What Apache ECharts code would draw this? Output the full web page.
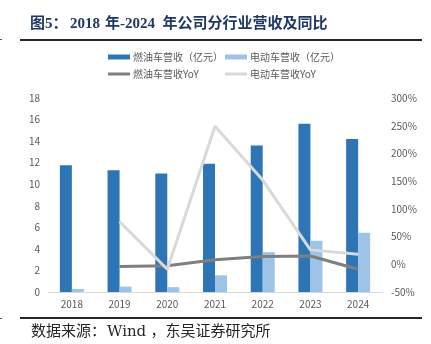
<!DOCTYPE html>
<html><head><meta charset="utf-8">
<script src="https://cdn.jsdelivr.net/npm/echarts@6/dist/echarts.min.js"></script>
<style>html,body{margin:0;padding:0;background:#fff}#c{width:431px;height:344px}</style>
</head><body><div id="c"></div>
<script>
const categories = ['2018','2019','2020','2021','2022','2023','2024'];
const fuelRevenue = [11.75, 11.3, 11.0, 11.9, 13.6, 15.6, 14.2];
const evRevenue = [0.28, 0.5, 0.45, 1.55, 3.7, 4.75, 5.5];
const fuelYoY = [null, -3.8, -2.7, 8, 14, 15, -9];
const evYoY = [null, 77, -9, 249, 152, 26, 18];
const leftTicks = {min: 0, max: 18, interval: 2};
const rightTicks = {min: -50, max: 300, interval: 50};
const names = ['燃油车营收（亿元）','电动车营收（亿元）','燃油车营收YoY','电动车营收YoY'];

const chart = echarts.init(document.getElementById('c'));
const lblFont = {color:'#595959', fontSize:10, fontFamily:'"Noto Sans CJK SC", sans-serif'};
function lg(name, left, top, h){
  return {data:[name], left:left, top:top, padding:0, itemWidth:22, itemHeight:h, icon:'rect', itemGap:0,
    textStyle:{color:'#595959', fontSize:10, fontFamily:'"Noto Sans CJK SC", sans-serif', padding:[0,0,0,-2]}};
}
const titleFont = 'bold 15px "Liberation Serif", "Noto Sans CJK SC", serif';
const srcFont = '15px "Liberation Serif", "Noto Sans CJK SC", serif';
function t(text, x, y, font, fill){ return {type:'text', x:x, y:y, style:{text:text, fill:fill, font:font}}; }
chart.setOption({
  animation:false,
  legend:[lg(names[0],108,52,5), lg(names[1],225,52,5), lg(names[2],108,69,3), lg(names[3],225,69,3)],
  grid:{left:48, right:49, top:98, bottom:52},
  xAxis:{type:'category', data:categories, axisTick:{show:false},
    axisLine:{lineStyle:{color:'#d9d9d9', width:1}},
    axisLabel:Object.assign({margin:7}, lblFont)},
  yAxis:[
    {type:'value', min:leftTicks.min, max:leftTicks.max, interval:leftTicks.interval,
     splitLine:{show:false}, axisLine:{show:false}, axisTick:{show:false},
     axisLabel:Object.assign({margin:8}, lblFont)},
    {type:'value', min:rightTicks.min, max:rightTicks.max, interval:rightTicks.interval,
     splitLine:{show:false}, axisLine:{show:false}, axisTick:{show:false},
     axisLabel:Object.assign({margin:9, formatter:'{value}%'}, lblFont)}
  ],
  series:[
    {name:names[0], type:'bar', data:fuelRevenue, barWidth:12, barGap:'0%', itemStyle:{color:'#2E75B6'}},
    {name:names[1], type:'bar', data:evRevenue, barWidth:12, barGap:'0%', itemStyle:{color:'#9DC3E6'}},
    {name:names[2], type:'line', yAxisIndex:1, data:fuelYoY, symbol:'none', lineStyle:{color:'#7F7F7F', width:3}, itemStyle:{color:'#7F7F7F'}},
    {name:names[3], type:'line', yAxisIndex:1, data:evYoY, symbol:'none', lineStyle:{color:'#D9D9D9', width:3}, itemStyle:{color:'#D9D9D9'}}
  ],
  graphic:[
    t('图5：', 30, 17, titleFont, '#1F3864'),
    t('2018', 70, 17, titleFont, '#1F3864'),
    t('年', 105, 17, titleFont, '#1F3864'),
    t('-2024', 120, 17, titleFont, '#1F3864'),
    t('年公司分行业营收及同比', 162.5, 17, titleFont, '#1F3864'),
    {type:'rect', shape:{x:20, y:39, width:402, height:2}, style:{fill:'#262626'}},
    {type:'rect', shape:{x:0, y:39, width:2, height:1}, style:{fill:'#555'}},
    {type:'rect', shape:{x:20, y:317, width:402, height:2}, style:{fill:'#262626'}},
    {type:'rect', shape:{x:0, y:318, width:2, height:1}, style:{fill:'#555'}},
    t('数据来源：', 31, 325, srcFont, '#262626'),
    t('Wind', 107, 325, '15px "DejaVu Serif", serif', '#262626'),
    t('，东吴证券研究所', 150.5, 325, srcFont, '#262626')
  ]
});
</script></body></html>
